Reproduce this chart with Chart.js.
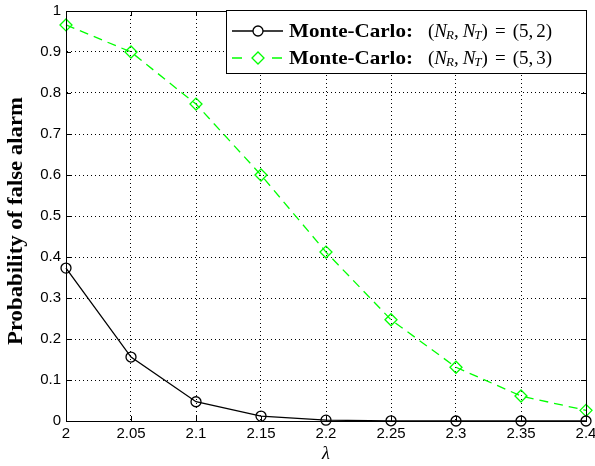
<!doctype html>
<html>

<head>
  <title>Probability of false alarm</title>
  <script src="https://cdn.jsdelivr.net/npm/chart.js"></script>
  <style>
    html, body { margin: 0; padding: 0; background: #fff; }
    #wrap { width: 595px; height: 466px; }
  </style>
</head>

<body>
<div id="wrap"><canvas id="chart"></canvas></div>
<script>
    // data
    const lambdas = [2, 2.05, 2.1, 2.15, 2.2, 2.25, 2.3, 2.35, 2.4];
    const pfaNT2 = [0.373, 0.156, 0.047, 0.012, 0.002, 0.0005, 0, 0, 0];
    const pfaNT3 = [0.966, 0.900, 0.773, 0.600, 0.412, 0.247, 0.131, 0.061, 0.026];
    const antennaPairs = [[5, 2], [5, 3]];
    const seriesPrefix = 'Monte-Carlo:';
    const yTitle = 'Probability of false alarm';
    const xTitle = 'λ';

    const xTicks = [2, 2.05, 2.1, 2.15, 2.2, 2.25, 2.3, 2.35, 2.4];
    const xTickLabels = ['2', '2.05', '2.1', '2.15', '2.2', '2.25', '2.3', '2.35', '2.4'];
    const yTicks = [0, 0.1, 0.2, 0.3, 0.4, 0.5, 0.6, 0.7, 0.8, 0.9, 1];
    const yTickLabels = ['0', '0.1', '0.2', '0.3', '0.4', '0.5', '0.6', '0.7', '0.8', '0.9', '1'];

    const toPoints = ys => lambdas.map((x, i) => ({x: x, y: ys[i]}));
    const tickFont = {family: 'Liberation Sans', size: 15};

    // draw text squeezed/stretched to a given width (latex fonts are wider than times)
    function fitText(ctx, s, x, y, width) {
        const w = ctx.measureText(s).width;
        ctx.save();
        ctx.translate(x, y);
        ctx.scale(width / w, 1);
        ctx.fillText(s, 0, 0);
        ctx.restore();
    }

    // box round the plot, small inward ticks, rotated y label
    const framePlugin = {
        id: 'frame',
        afterDraw(chart) {
            const {ctx, chartArea: a, scales} = chart;
            ctx.save();
            ctx.strokeStyle = '#000';
            ctx.lineWidth = 1;
            ctx.strokeRect(a.left + 0.5, a.top + 0.5, a.right - a.left, a.bottom - a.top);
            ctx.beginPath();
            xTicks.forEach(v => {
                const px = Math.round(scales.x.getPixelForValue(v)) + 0.5;
                ctx.moveTo(px, a.bottom); ctx.lineTo(px, a.bottom - 5);
                ctx.moveTo(px, a.top); ctx.lineTo(px, a.top + 5);
            });
            yTicks.forEach(v => {
                const py = Math.round(scales.y.getPixelForValue(v)) + 0.5;
                ctx.moveTo(a.left, py); ctx.lineTo(a.left + 5, py);
                ctx.moveTo(a.right, py); ctx.lineTo(a.right - 5, py);
            });
            ctx.stroke();

            ctx.translate(17, (a.top + a.bottom) / 2 + 5);
            ctx.rotate(-Math.PI / 2);
            ctx.fillStyle = '#000';
            ctx.font = 'bold 20px "Liberation Serif"';
            ctx.textBaseline = 'middle';
            const tw = 248;
            fitText(ctx, yTitle, -tw / 2, 0, tw);
            ctx.restore();
        }
    };

    // legend with the bit of math in it
    const legendPlugin = {
        id: 'mathLegend',
        afterDraw(chart) {
            const {ctx, chartArea: a} = chart;
            const w = 360, h = 63;
            const x0 = a.right - w, y0 = a.top - 1;
            ctx.save();
            ctx.fillStyle = '#fff';
            ctx.fillRect(x0, y0, w, h);
            ctx.strokeStyle = '#000';
            ctx.lineWidth = 1;
            ctx.strokeRect(x0 + 0.5, y0 + 0.5, w, h);

            chart.data.datasets.forEach((ds, i) => {
                const cy = y0 + 21 + i * 27;
                const lx = x0 + 6;
                ctx.save();
                ctx.strokeStyle = ds.borderColor;
                ctx.lineWidth = ds.borderWidth;
                ctx.setLineDash(ds.borderDash ? [10, 30] : []);
                ctx.beginPath();
                ctx.moveTo(lx, cy); ctx.lineTo(lx + 51, cy);
                ctx.stroke();
                ctx.setLineDash([]);
                ctx.fillStyle = '#fff';
                Chart.helpers.drawPoint(ctx, {
                    pointStyle: ds.pointStyle, radius: ds.pointRadius, borderWidth: ds.borderWidth
                }, lx + 26, cy);
                ctx.restore();

                ctx.fillStyle = '#000';
                ctx.textBaseline = 'middle';
                ctx.font = 'bold 19px "Liberation Serif"';
                fitText(ctx, seriesPrefix, x0 + 63, cy + 1, 124);

                // (N_R, N_T) = (a, b)
                let tx = x0 + 202;
                const piece = (s, font, dy, gap) => {
                    ctx.font = font;
                    ctx.fillText(s, tx, cy + 1 + (dy || 0));
                    tx += ctx.measureText(s).width + (gap || 0);
                };
                const rm = '19px "Liberation Serif"', it = 'italic 19px "Liberation Serif"', sub = 'italic 13px "Liberation Serif"';
                const pr = antennaPairs[i];
                piece('(', rm); piece('N', it, 0, -1); piece('R', sub, 4); piece(',', rm, 0, 4);
                piece('N', it, 0, -1); piece('T', sub, 4); piece(')', rm, 0, 7);
                piece('=', rm, 0, 7);
                piece('(' + pr[0] + ',', rm, 0, 3);
                piece(pr[1] + ')', rm);
            });
            ctx.restore();
        }
    };

    const ctx = document.getElementById('chart').getContext('2d');
    const chart = new Chart(ctx, {
        type: 'line',
        data: {
            datasets: [{
                label: seriesPrefix + ' (N_R, N_T) = (' + antennaPairs[0].join(', ') + ')',
                data: toPoints(pfaNT2),
                borderColor: '#000',
                backgroundColor: 'transparent',
                borderWidth: 1.3,
                pointStyle: 'circle',
                pointRadius: 5,
                pointBorderColor: '#000',
                pointBackgroundColor: 'transparent',
                tension: 0,
                clip: false
            }, {
                label: seriesPrefix + ' (N_R, N_T) = (' + antennaPairs[1].join(', ') + ')',
                data: toPoints(pfaNT3),
                borderColor: '#00ff00',
                backgroundColor: 'transparent',
                borderWidth: 1.3,
                borderDash: [9, 6],
                pointStyle: 'rectRot',
                pointRadius: 6,
                pointBorderColor: '#00ff00',
                pointBackgroundColor: 'transparent',
                tension: 0,
                clip: false
            }]
        },
        options: {
            responsive: true,
            maintainAspectRatio: false,
            animation: false,
            layout: {padding: {top: 11, right: 9, left: 0, bottom: 0}},
            plugins: {legend: {display: false}, tooltip: {enabled: false}},
            scales: {
                x: {
                    type: 'linear',
                    min: 2,
                    max: 2.4,
                    afterBuildTicks: s => { s.ticks = xTicks.map(v => ({value: v})); },
                    afterFit: s => { s.height = 45; s.paddingLeft = 0; s.paddingRight = 0; },
                    ticks: {
                        color: '#000',
                        font: tickFont,
                        padding: 4,
                        maxRotation: 0,
                        autoSkip: false,
                        callback: (v, i) => xTickLabels[i]
                    },
                    grid: {color: '#000', lineWidth: 1, drawTicks: false},
                    border: {display: true, color: '#000', width: 1, dash: [1, 3]},
                    title: {
                        display: true,
                        text: xTitle,
                        color: '#000',
                        font: {family: 'Liberation Serif', size: 18, style: 'italic'},
                        padding: {top: 0, bottom: 1}
                    }
                },
                y: {
                    type: 'linear',
                    min: 0,
                    max: 1,
                    afterBuildTicks: s => { s.ticks = yTicks.map(v => ({value: v})); },
                    afterFit: s => { s.width = 66; s.paddingTop = 0; s.paddingBottom = 0; },
                    ticks: {
                        color: '#000',
                        font: tickFont,
                        padding: 5,
                        autoSkip: false,
                        callback: (v, i) => yTickLabels[i]
                    },
                    grid: {color: '#000', lineWidth: 1, drawTicks: false},
                    border: {display: true, color: '#000', width: 1, dash: [1, 3]}
                }
            }
        },
        plugins: [framePlugin, legendPlugin]
    });
</script>
</body>

</html>
